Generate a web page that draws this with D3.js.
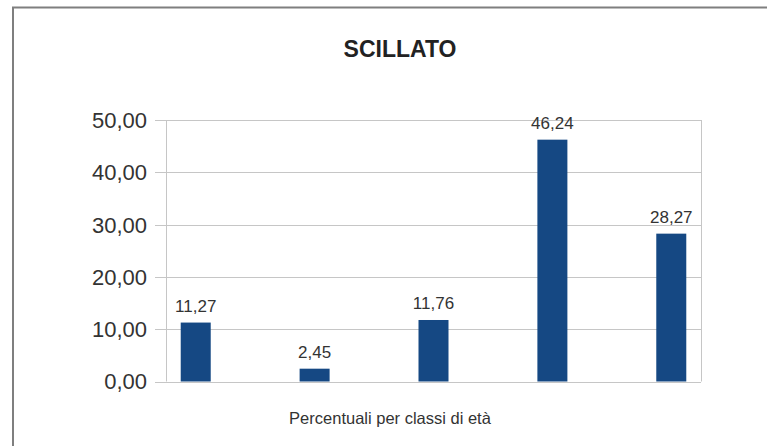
<!DOCTYPE html>
<html>
<head>
<meta charset="utf-8">
<script src="https://cdn.jsdelivr.net/npm/d3@7"></script>
<style>
  html, body { margin: 0; padding: 0; background: #fff; }
  svg { display: block; font-family: "Liberation Sans", Arial, sans-serif; }
</style>
</head>
<body>
<div id="vis"></div>
<script>
// chart values
var categories = ['classe 1', 'classe 2', 'classe 3', 'classe 4', 'classe 5'];
var percentuali = [11.27, 2.45, 11.76, 46.24, 28.27];
var yTicks = [0, 10, 20, 30, 40, 50];

var width = 767;
var height = 446;
var margin = { top: 120, right: 66, bottom: 64.5, left: 166 };
var barWidth = 30;

var fmt = function (v) { return d3.format('.2f')(v).replace('.', ','); };

var svg = d3.select('#vis')
  .append('svg')
  .attr('width', width)
  .attr('height', height);

// outer frame (only top and left edges fall inside the picture)
svg.append('path')
  .attr('d', 'M13,' + height + 'V7.5H' + width)
  .attr('fill', 'none')
  .attr('stroke', '#7f7f7f')
  .attr('stroke-width', 2);

var x = d3.scalePoint()
  .domain(categories)
  .range([margin.left, width - margin.right])
  .padding(0.25);

var y = d3.scaleLinear()
  .domain([0, 50])
  .range([height - margin.bottom, margin.top]);

// grid lines
svg.append('g')
  .selectAll('line')
  .data(yTicks)
  .enter().append('line')
  .attr('x1', margin.left - 11)
  .attr('x2', width - margin.right)
  .attr('y1', function (d) { return Math.round(y(d)) + 0.5; })
  .attr('y2', function (d) { return Math.round(y(d)) + 0.5; })
  .attr('stroke', '#c6c6c6')
  .attr('stroke-width', 1);

// left and right plot edges
svg.append('g')
  .selectAll('line')
  .data([margin.left, width - margin.right])
  .enter().append('line')
  .attr('x1', function (d) { return d + 0.5; })
  .attr('x2', function (d) { return d + 0.5; })
  .attr('y1', y(50))
  .attr('y2', y(0))
  .attr('stroke', '#c6c6c6')
  .attr('stroke-width', 1);

// y tick labels
svg.append('g')
  .selectAll('text')
  .data(yTicks)
  .enter().append('text')
  .attr('x', 147)
  .attr('y', function (d) { return y(d); })
  .attr('dy', '0.36em')
  .attr('text-anchor', 'end')
  .attr('font-size', 22)
  .attr('fill', '#333')
  .text(fmt);

// bars
svg.append('g')
  .selectAll('rect')
  .data(percentuali)
  .enter().append('rect')
  .attr('x', function (d, i) { return x(categories[i]) - barWidth / 2; })
  .attr('y', function (d) { return y(d); })
  .attr('width', barWidth)
  .attr('height', function (d) { return y(0) - y(d); })
  .attr('fill', '#154883');

// value labels
svg.append('g')
  .selectAll('text')
  .data(percentuali)
  .enter().append('text')
  .attr('x', function (d, i) { return x(categories[i]); })
  .attr('y', function (d) { return y(d) - 10.5; })
  .attr('text-anchor', 'middle')
  .attr('font-size', 17)
  .attr('fill', '#333')
  .text(fmt);

// title
svg.append('text')
  .attr('x', 400)
  .attr('y', 56.5)
  .attr('text-anchor', 'middle')
  .attr('font-size', 23)
  .attr('font-weight', 'bold')
  .attr('fill', '#222')
  .text('SCILLATO');

// x axis title
svg.append('text')
  .attr('x', 390)
  .attr('y', 424)
  .attr('text-anchor', 'middle')
  .attr('font-size', 16.5)
  .attr('fill', '#333')
  .text('Percentuali per classi di età');
</script>
</body>
</html>
